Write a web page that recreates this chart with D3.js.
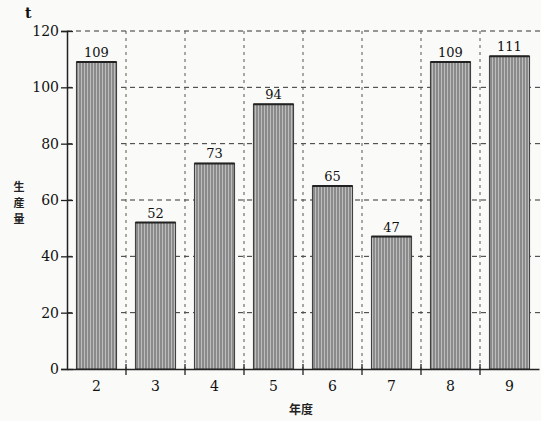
<!DOCTYPE html>
<html><head><meta charset="utf-8">
<script src="https://cdn.jsdelivr.net/npm/d3@7"></script>
<style>body{margin:0;background:#fafaf8}</style>
</head><body>
<svg id="c" width="541" height="421"></svg>
<script>
const categories = ["2","3","4","5","6","7","8","9"];
const values = [109,52,73,94,65,47,109,111];
const yTicks = [0,20,40,60,80,100,120];
const yLabelChars = ["生","産","量"];

const svg = d3.select("#c");
const m = {l:67, r:2, t:31, b:52};
const W = 541, H = 421;
const x = d3.scaleBand().domain(categories).range([m.l, W - m.r]).paddingInner(0.32).paddingOuter(0.16);
const xb = d3.scaleBand().domain(categories).range([m.l, W - m.r]);
const y = d3.scaleLinear().domain([0,120]).range([H - m.b, m.t]);

const defs = svg.append("defs");
const pat = defs.append("pattern").attr("id","stripe").attr("patternUnits","userSpaceOnUse").attr("width",3).attr("height",10);
pat.append("rect").attr("width",3).attr("height",10).attr("fill","#8a8a8a");
pat.append("rect").attr("width",1).attr("height",10).attr("fill","#bdbdbd");

const serif = "'DejaVu Serif', 'Liberation Serif', serif";
const g = svg.append("g");

g.selectAll(".hg").data(yTicks.filter(d=>d>0)).join("line")
  .attr("x1", m.l).attr("x2", W).attr("y1", d=>y(d)).attr("y2", d=>y(d))
  .attr("stroke","#333").attr("stroke-width",1).attr("stroke-dasharray","5,4");
const bounds = categories.slice(1).map(c => xb(c));
g.selectAll(".vg").data(bounds).join("line")
  .attr("x1", d=>d).attr("x2", d=>d).attr("y1", y(120)).attr("y2", y(0))
  .attr("stroke","#555").attr("stroke-width",1).attr("stroke-dasharray","3,4");

g.selectAll(".bar").data(values).join("rect")
  .attr("x", (d,i)=>x(categories[i])).attr("width", x.bandwidth())
  .attr("y", d=>y(d)).attr("height", d=>y(0)-y(d))
  .attr("fill","url(#stripe)").attr("stroke","#3a3a3a").attr("stroke-width",1);
g.selectAll(".top").data(values).join("line")
  .attr("x1", (d,i)=>x(categories[i])).attr("x2", (d,i)=>x(categories[i])+x.bandwidth())
  .attr("y1", d=>y(d)).attr("y2", d=>y(d)).attr("stroke","#222").attr("stroke-width",2);

g.selectAll(".vl").data(values).join("text")
  .attr("x", (d,i)=>x(categories[i])+x.bandwidth()/2).attr("y", d=>y(d)-5)
  .attr("text-anchor","middle").attr("font-family",serif).attr("font-size",13).attr("fill","#111")
  .text(d=>d);

const ya = svg.append("g").attr("transform",`translate(${m.l},0)`)
  .call(d3.axisLeft(y).tickValues(yTicks).tickSize(6).tickPadding(3));
ya.select(".domain").attr("stroke","#222").attr("stroke-width",1.5);
ya.selectAll(".tick line").attr("x2",6).attr("x1",-6).attr("stroke","#222").attr("stroke-width",1.3);
ya.selectAll(".tick text").attr("font-family",serif).attr("font-size",14).attr("fill","#111").attr("x",-8);

const xa = svg.append("g").attr("transform",`translate(0,${y(0)})`)
  .call(d3.axisBottom(xb).tickSize(0).tickPadding(12));
xa.select(".domain").attr("stroke","#222").attr("stroke-width",1.5);
xa.selectAll(".tick text").attr("font-family",serif).attr("font-size",14).attr("fill","#111");
xa.selectAll(".bt").data(bounds).join("line").attr("class","bt")
  .attr("x1",d=>d).attr("x2",d=>d).attr("y1",-5).attr("y2",6).attr("stroke","#222").attr("stroke-width",1.3);

svg.append("text").attr("x",25).attr("y",18).attr("font-family",serif).attr("font-weight","bold").attr("font-size",14).attr("fill","#111").text("t");
svg.selectAll(".ylab").data(yLabelChars).join("text").attr("class","ylab")
  .attr("x",19).attr("y",(d,i)=>191+i*16).attr("text-anchor","middle")
  .attr("font-family","'Noto Sans CJK JP', sans-serif").attr("font-weight","bold").attr("font-size",11).attr("fill","#222")
  .text(d=>d);
svg.append("text").attr("x",301).attr("y",414).attr("text-anchor","middle").attr("font-family","'Noto Sans CJK JP', sans-serif").attr("font-weight","bold").attr("font-size",12).attr("fill","#222").text("年度");
</script>
</body></html>
